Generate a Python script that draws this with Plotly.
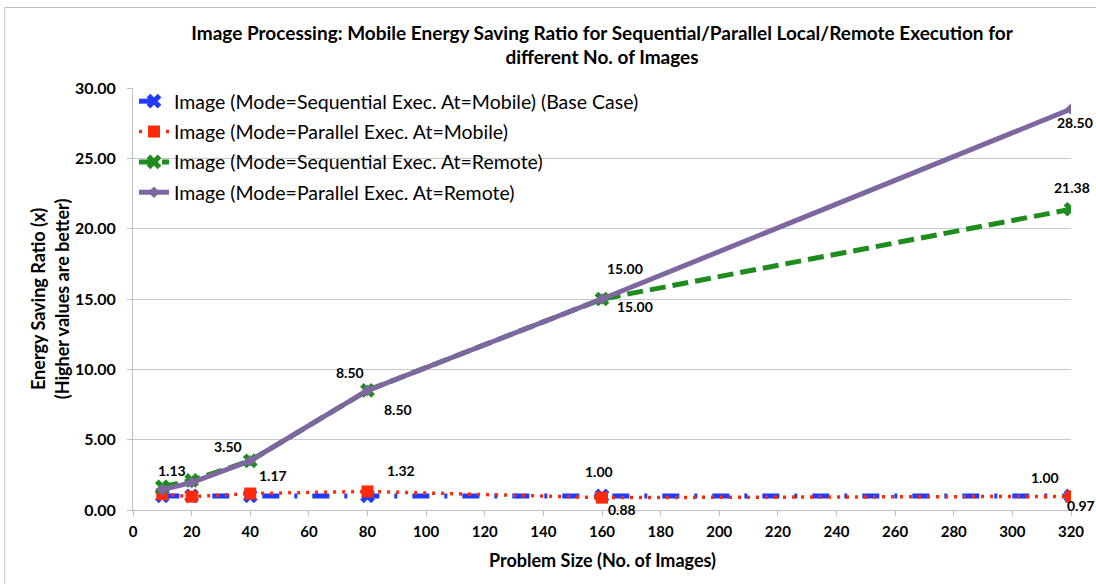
import plotly.graph_objects as go

# Problem sizes (number of images)
problem_size = [10, 20, 40, 80, 160, 320]

# Energy saving ratio per execution mode
seq_mobile = [1.00, 1.00, 1.00, 1.00, 1.00, 1.00]
par_mobile = [1.13, 0.95, 1.17, 1.32, 0.88, 0.97]
seq_remote = [1.65, 2.10, 3.50, 8.50, 15.00, 21.38]
par_remote = [1.45, 1.95, 3.50, 8.50, 15.00, 28.50]

series_names = [
    "Image (Mode=Sequential Exec. At=Mobile) (Base Case)",
    "Image (Mode=Parallel Exec. At=Mobile)",
    "Image (Mode=Sequential Exec. At=Remote)",
    "Image (Mode=Parallel Exec. At=Remote)",
]

x_ticks = list(range(0, 321, 20))
y_ticks = [0, 5, 10, 15, 20, 25, 30]

FONT = "Lato"
BLUE = "#1F3BFF"
RED = "#FF2A0A"
GREEN = "#1E8C1E"
PURPLE = "#7E67A0"

fig = go.Figure()

fig.add_trace(go.Scatter(
    x=problem_size, y=seq_mobile, name=series_names[0], legendgroup="a",
    mode="lines+markers",
    line=dict(color=BLUE, width=5, dash="17px,15px,3px,15px"),
    marker=dict(symbol="x", size=13, color=BLUE),
))
fig.add_trace(go.Scatter(
    x=problem_size, y=par_mobile, name=series_names[1], legendgroup="b",
    mode="lines+markers",
    line=dict(color=RED, width=3.5, dash="3px,6px"),
    marker=dict(symbol="square", size=12, color=RED),
))
fig.add_trace(go.Scatter(
    x=problem_size, y=seq_remote, name=series_names[2], legendgroup="c",
    mode="lines+markers",
    line=dict(color=GREEN, width=5, dash="16px,7px"),
    marker=dict(symbol="x", size=13, color=GREEN),
))
fig.add_trace(go.Scatter(
    x=problem_size, y=par_remote, name=series_names[3], legendgroup="d",
    mode="lines+markers",
    line=dict(color=PURPLE, width=5),
    marker=dict(symbol="diamond", size=9, color=PURPLE),
))

# Data labels: (x, y, text, xshift, yshift)
labels = [
    (problem_size[0], par_mobile[0], "1.13", 10, 24),
    (problem_size[2], par_remote[2], "3.50", -22, 14),
    (problem_size[2], par_mobile[2], "1.17", 23, 18),
    (problem_size[3], par_remote[3], "8.50", -18, 18),
    (problem_size[3], seq_remote[3], "8.50", 30, -19),
    (problem_size[3], par_mobile[3], "1.32", 33, 21),
    (problem_size[4], par_remote[4], "15.00", 23, 31),
    (problem_size[4], seq_remote[4], "15.00", 33, -7),
    (problem_size[4], seq_mobile[4], "1.00", -3, 24),
    (problem_size[4], par_mobile[4], "0.88", 20, -12),
    (problem_size[5], par_remote[5], "28.50", 4, -13),
    (problem_size[5], seq_remote[5], "21.38", 1, 22),
    (problem_size[5], seq_mobile[5], "1.00", -26, 18),
    (problem_size[5], par_mobile[5], "0.97", 10, -9),
]
annotations = [
    dict(x=x, y=y, text=t, xshift=dx, yshift=dy, showarrow=False,
         xref="x", yref="y", font=dict(family=FONT, size=14, color="black", weight="bold"))
    for x, y, t, dx, dy in labels
]

# Axis titles
annotations.append(dict(
    x=(49 - 133) / 940, y=0.5, xref="paper", yref="paper", showarrow=False,
    text="Energy Saving Ratio (x)<br>(Higher values are better)", textangle=-90,
    font=dict(family=FONT, size=18, color="black", weight="bold"),
    xanchor="center", yanchor="middle",
))
annotations.append(dict(
    x=0.5, y=-50 / 422, xref="paper", yref="paper", showarrow=False,
    text="Problem Size (No. of Images)",
    font=dict(family=FONT, size=18, color="black", weight="bold"),
    xanchor="center", yanchor="middle",
))

fig.update_layout(
    width=1096, height=584,
    margin=dict(l=133, r=23, t=88, b=74),
    paper_bgcolor="white", plot_bgcolor="white",
    title=dict(
        text="Image Processing: Mobile Energy Saving Ratio for Sequential/Parallel Local/Remote Execution for<br>different No. of Images",
        x=0.5, xref="paper", xanchor="center", y=1 - 39.5 / 584, yanchor="middle",
        font=dict(family=FONT, size=19, color="black", weight="bold"),
    ),
    xaxis=dict(
        range=[0, 320], tickvals=x_ticks, ticktext=[str(v) for v in x_ticks],
        showgrid=False, zeroline=False, showline=True, linecolor="#BFBFBF", linewidth=1,
        ticks="outside", ticklen=5, tickcolor="#BFBFBF", ticklabelstandoff=3,
        tickfont=dict(family=FONT, size=15, color="black", weight="bold"),
    ),
    yaxis=dict(
        range=[0, 30], tickvals=y_ticks, ticktext=[f"{v:.2f}" for v in y_ticks],
        showgrid=True, gridcolor="#C8C8C8", gridwidth=1, zeroline=False,
        showline=True, linecolor="#BFBFBF", linewidth=1,
        ticks="outside", ticklen=5, tickcolor="#BFBFBF", ticklabelstandoff=8,
        tickfont=dict(family=FONT, size=16, color="black", weight="bold"),
    ),
    legend=dict(
        x=(134 - 133) / 940, y=1 - (82 - 88) / 422, xanchor="left", yanchor="top",
        bgcolor="rgba(0,0,0,0)", traceorder="grouped", tracegroupgap=2,
        font=dict(family=FONT, size=19.5, color="black"),
    ),
    annotations=annotations,
    shapes=[dict(
        type="rect", xref="paper", yref="paper",
        x0=(4.5 - 133) / 940, x1=1.2, y0=-0.4, y1=(510 - 7.5) / 422,
        line=dict(color="#BFBFBF", width=1), fillcolor="rgba(0,0,0,0)", layer="below",
    )],
    showlegend=True,
)

fig.write_html("out.html")
